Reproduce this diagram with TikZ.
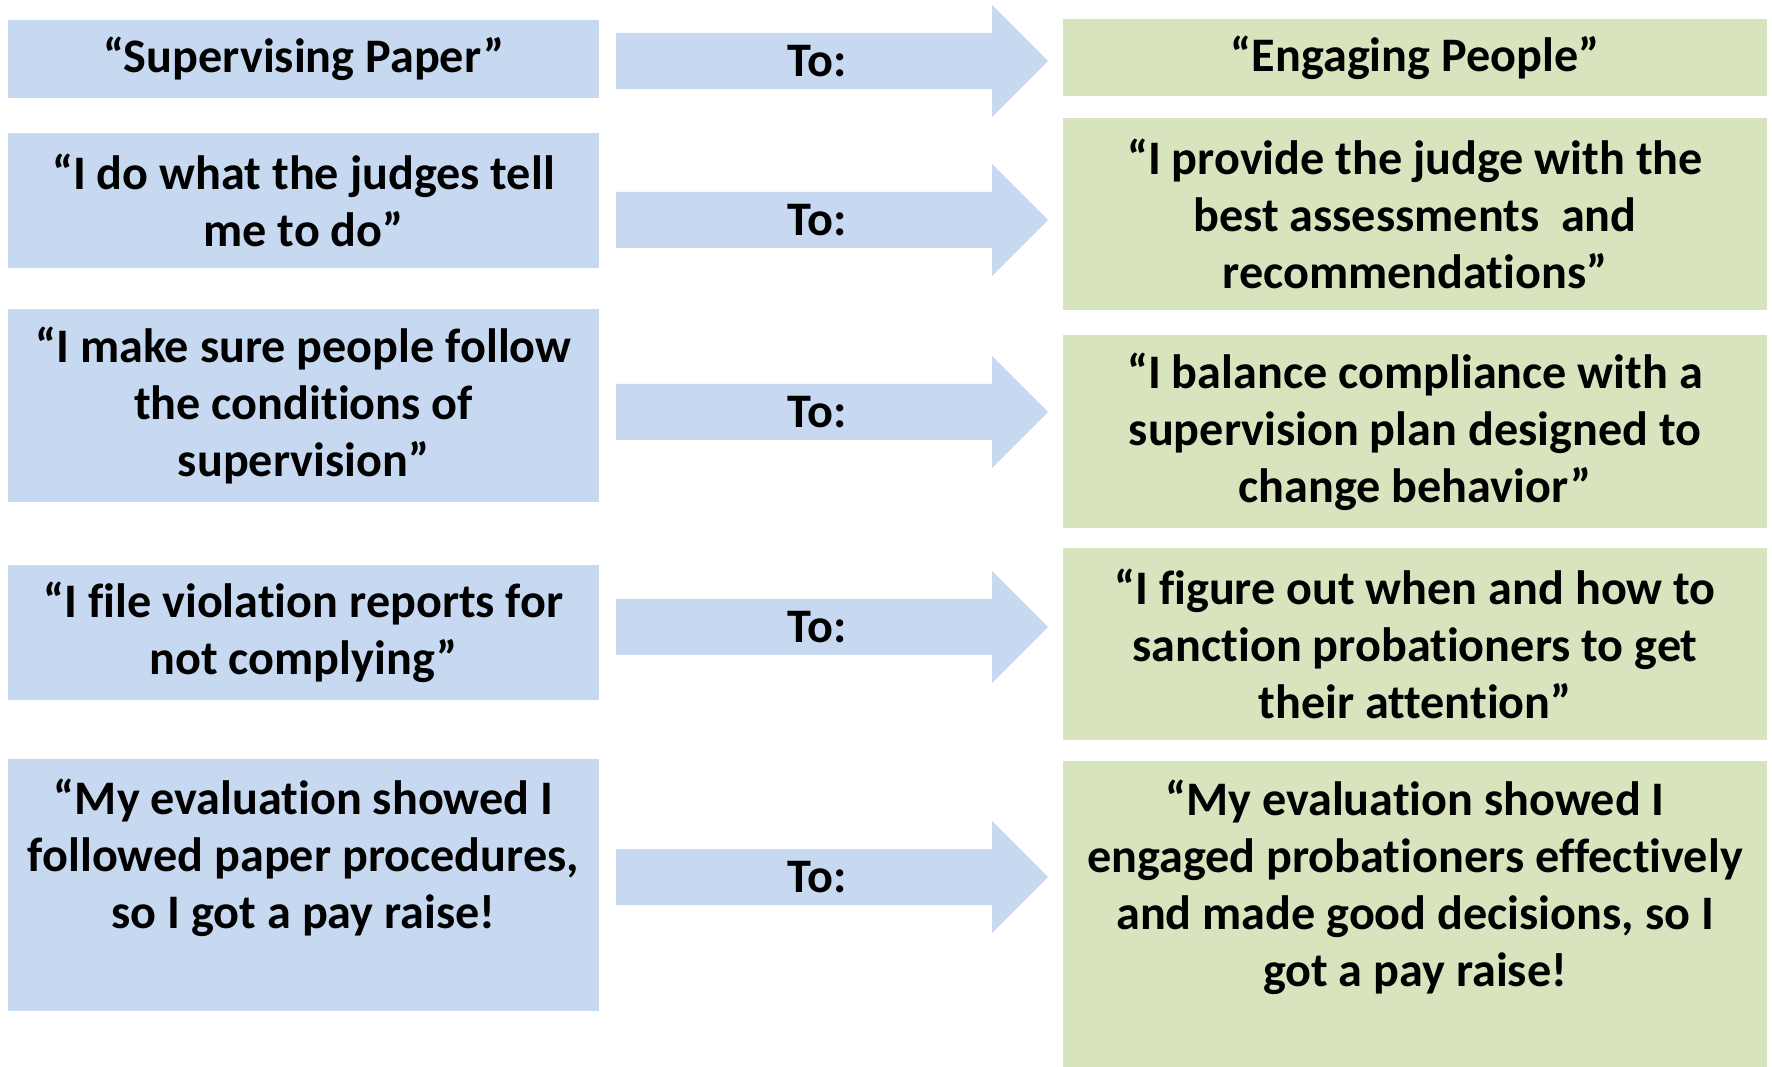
\documentclass[tikz,border=0pt]{standalone}
\usepackage{fontspec}
\setmainfont{Carlito}[Ligatures={NoCommon}]
\begin{document}
\begin{tikzpicture}[x=0.01cm,y=-0.01cm,
  every node/.style={font=\bfseries\fontsize{13.7}{16.2}\selectfont, align=center, inner sep=0pt},
  lbox/.style={fill=blueA, minimum width=5.91cm},
  rbox/.style={fill=greenA, minimum width=7.04cm},
  blockarrow/.style={fill=blueA}]
\definecolor{blueA}{RGB}{198,217,241}
\definecolor{greenA}{RGB}{215,228,189}
\useasboundingbox (0,0) rectangle (1772,1067);
\fill[white] (0,0) rectangle (1772,1067);

% left boxes
\node[lbox, minimum height=0.78cm]  (L1) at (303.5,59)   {“Supervising Paper”};
\node[lbox, minimum height=1.35cm]  (L2) at (303.5,200.5) {“I do what the judges tell\\ me to do”};
\node[lbox, minimum height=1.93cm]  (L3) at (303.5,405.5) {“I make sure people follow\\ the conditions of\\ supervision”};
\node[lbox, minimum height=1.35cm]  (L4) at (303.5,632.5) {“I file violation reports for\\ not complying”};
\node[lbox, minimum height=2.52cm]  (L5) at (303.5,885)   {};
\node (L5t) at (303.5,858) {“My evaluation showed I\\ followed paper procedures,\\ so I got a pay raise!};

% right boxes
\node[rbox, minimum height=0.77cm]  (R1) at (1415,57.5)  {“Engaging People”};
\node[rbox, minimum height=1.92cm]  (R2) at (1415,214)   {“I provide the judge with the\\ best assessments\ \ and\\ recommendations”};
\node[rbox, minimum height=1.93cm]  (R3) at (1415,431.5) {“I balance compliance with a\\ supervision plan designed to\\ change behavior”};
\node[rbox, minimum height=1.92cm]  (R4) at (1415,644)   {“I figure out when and how to\\ sanction probationers to get\\ their attention”};
\node[rbox, minimum height=3.06cm]  (R5) at (1415,914)   {};
\node (R5t) at (1415,887) {“My evaluation showed I\\ engaged probationers effectively\\ and made good decisions, so I\\ got a pay raise!};

% block arrows
\foreach \i/\y in {1/61,2/220,3/412,4/627,5/877}{
  \coordinate (A\i) at (616,\y);
  \fill[blockarrow] (A\i) ++(0,-28) -- ++(376,0) -- ++(0,-28) -- ++(56,56)
      -- ++(-56,56) -- ++(0,-28) -- ++(-376,0) -- cycle;
  \node (T\i) at (817,\y) {To:};
}
\end{tikzpicture}
\end{document}
